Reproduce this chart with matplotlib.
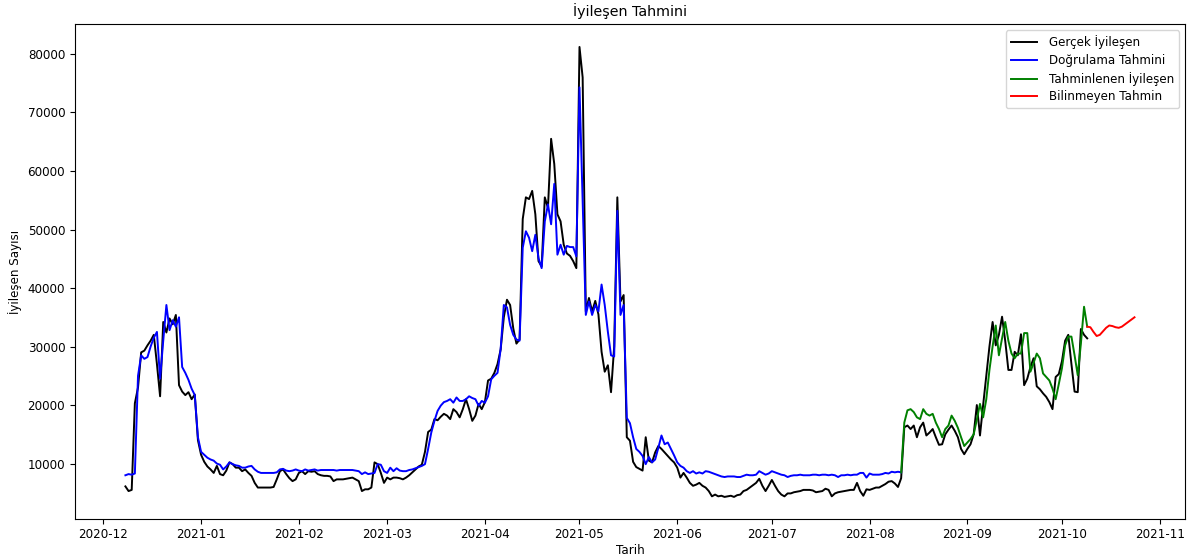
import matplotlib
matplotlib.use("Agg")
import matplotlib.pyplot as plt
import matplotlib.dates as mdates
import pandas as pd

plt.rcParams["font.family"] = ["DejaVu Sans"]
plt.rcParams["font.size"] = 8.6

# daily recovered counts, starting 2020-12-08
actual = [
    6100, 5300, 5500, 20300, 23000, 29000, 29300, 30200, 31000, 32000,
    27000, 21500, 34200, 32400, 34800, 33800, 35400, 23400, 22300, 21700,
    22200, 21000, 21800, 14000, 11500, 10300, 9500, 9000, 8400, 9600,
    8200, 8000, 8800, 10200, 9900, 9300, 9300, 8700, 9000, 8400,
    7900, 6700, 5900, 5900, 5900, 5900, 5900, 6000, 7300, 8700, 9000,
    8200, 7500, 7000, 7300, 8400, 8700, 8200, 8700, 8600, 8700,
    8200, 8000, 7900, 7900, 7800, 7000, 7300, 7300, 7300, 7400,
    7500, 7600, 7300, 7000, 5300, 5600, 5600, 5900, 10200, 9900,
    8400, 6700, 7600, 7300, 7600, 7600, 7500, 7300, 7600, 8000, 8500,
    9000, 9500, 9800, 12000, 15400, 15800, 17600, 17400, 18000, 18500,
    18200, 17600, 19300, 18800, 17900, 19300, 21000, 19300, 17300, 18200,
    20200, 19300, 20500, 24200, 24500, 25500, 27000, 29500, 35000, 38000,
    37100, 33100, 30500, 31200, 51800, 55500, 55200, 56600, 52600, 44600,
    43700, 55500, 53700, 65500, 61200, 52600, 51400, 47400, 45900, 45500,
    44600, 43400, 81200, 76000, 36000, 38300, 36000, 37800, 35500, 29100,
    25700, 26800, 22200, 30000, 55500, 37700, 38800, 14500, 13900, 10300,
    9400, 9100, 8800, 14500, 10500, 10200, 11900, 13000, 12500, 11900,
    11300, 10700, 10200, 9300, 7600, 8400, 7600, 6700, 6200, 6400,
    6700, 6200, 5900, 5300, 4400, 4700, 4400, 4500, 4300, 4400, 4500,
    4300, 4600, 4700, 5300, 5500, 5900, 6300, 6700, 7400, 6200,
    5300, 6200, 7200, 6200, 5300, 4700, 4400, 4900, 4900, 5100,
    5200, 5300, 5500, 5500, 5500, 5400, 5100, 5200, 5300, 5700, 5500,
    4400, 4900, 5100, 5200, 5300, 5400, 5500, 5500, 6700, 5300,
    4500, 5600, 5500, 5700, 5900, 5900, 6200, 6500, 6900, 7000,
    6600, 6000, 7500, 16200, 16500, 15900, 16500, 14500, 16200, 17000,
    14800, 15300, 15900, 14500, 13200, 13300, 15000, 15800, 16500, 15600,
    14500, 12500, 11600, 12500, 13300, 15000, 20000, 14800, 20000, 25000,
    30000, 34200, 30200, 32000, 35100, 31000, 26000, 26000, 29100, 28500,
    32100, 23400, 24500, 26500, 28000, 23200, 22700, 22000, 21400, 20500,
    19300, 24800, 25300, 27500, 31000, 32000, 27000, 22300, 22200, 33000,
    32000, 31400,
]

# model output on the validation period
validation = [
    8000, 8200, 8100, 8300, 25000, 28500, 27900, 28200, 30000, 31500,
    32500, 24500, 31000, 37100, 32800, 34500, 33400, 35000, 26500, 25500,
    24300, 22800, 21700, 14500, 12000, 11500, 11000, 10700, 10500, 10000,
    9800, 9000, 9500, 10200, 9900, 9700, 9600, 9300, 9300, 9500,
    9600, 9000, 8600, 8400, 8400, 8400, 8400, 8400, 8500, 9000, 9100,
    8800, 8700, 8800, 9000, 8800, 8700, 9000, 8800, 8900, 9000,
    8800, 8900, 8900, 8900, 8900, 8900, 8800, 8900, 8900, 8900,
    8900, 8900, 8800, 8700, 8200, 8500, 8200, 8300, 8400, 9900,
    9800, 8700, 8400, 9300, 8700, 9200, 8800, 8700, 8700, 8900, 9000,
    9200, 9400, 9600, 9900, 12500, 15300, 17300, 19000, 19900, 20500,
    20700, 21000, 20400, 21300, 20700, 20700, 21000, 21500, 21200, 21000,
    19900, 20700, 20400, 21500, 24400, 25000, 25500, 29600, 37100, 36700,
    33700, 32000, 31200, 31000, 46900, 49700, 48600, 46300, 49100, 45100,
    43400, 51400, 54300, 50900, 57800, 45700, 47400, 45700, 47200, 47000,
    47000, 45400, 74300, 55000, 35400, 37700, 35400, 37100, 36000, 40600,
    37100, 32500, 28500, 28300, 53200, 35400, 37100, 17800, 16900, 14500,
    12500, 12000, 11300, 9900, 11100, 10200, 10700, 12700, 14800, 13300,
    13600, 12500, 11400, 10200, 9600, 9300, 8700, 8400, 8700, 8300,
    8500, 8300, 8700, 8600, 8400, 8200, 8000, 7800, 7700, 7800, 7800,
    7800, 7700, 7700, 7900, 8100, 8000, 8000, 8100, 8700, 8400,
    8100, 8300, 8700, 8500, 8300, 8100, 8000, 7700, 7900, 8000,
    8000, 8100, 8000, 8000, 8000, 8100, 8100, 8000, 8100, 8100, 8000,
    8100, 8000, 7700, 8000, 8000, 8100, 8000, 8100, 8100, 8400,
    8400, 7600, 8300, 8100, 8100, 8100, 8200, 8400, 8300, 8600,
    8500, 8600, 8500,
]

# forecast on the last known weeks (starts where validation ends)
forecast = [
    8500, 17000, 19100, 19300, 18800, 17900, 17600, 19300, 18500, 18200,
    18500, 17000, 15900, 14500, 15900, 16500, 18200, 17300, 16100, 14500,
    13000, 13600, 14200, 15000, 17500, 20200, 17900, 21000, 26000, 30000,
    33600, 28500, 31400, 34200, 31000, 28800, 28000, 28800, 28800, 32300,
    32300, 25700, 27200, 28800, 28000, 25400, 24800, 24200, 22800, 21000,
    23600, 26300, 30200, 31700, 31700, 28500, 25100, 30500, 36800, 33400,
]

# forecast past the last known day
future = [
    33400, 33300, 32500, 31800, 32000, 32600, 33200, 33600, 33500, 33300,
    33200, 33400, 33800, 34200, 34600, 35000,
]

start = pd.Timestamp("2020-12-08")
days = pd.date_range(start, periods=len(actual), freq="D")
val_days = days[:len(validation)]
fc_days = pd.date_range(days[len(validation) - 1], periods=len(forecast), freq="D")
fut_days = pd.date_range(days[-1], periods=len(future), freq="D")

fig = plt.figure(figsize=(12.03, 5.56), dpi=100)
ax = fig.add_axes([0.0623, 0.0658, 0.9227, 0.8902])

lw = 1.4
ax.plot(days, actual, color="black", lw=lw, label="Gerçek İyileşen")
ax.plot(val_days, validation, color="blue", lw=lw, label="Doğrulama Tahmini")
ax.plot(fc_days, forecast, color="green", lw=lw, label="Tahminlenen İyileşen")
ax.plot(fut_days, future, color="red", lw=lw, label="Bilinmeyen Tahmin")

ax.xaxis.set_major_locator(mdates.MonthLocator())
ax.xaxis.set_major_formatter(mdates.DateFormatter("%Y-%m"))
ax.tick_params(axis="x", pad=2.5)

ax.set_title("İyileşen Tahmini", fontsize=10.3)
ax.set_xlabel("Tarih", labelpad=2)
ax.set_ylabel("İyileşen Sayısı")
ax.legend(loc="upper right", handlelength=2.2, handletextpad=1.0, labelspacing=0.4)

fig.savefig("out.png", dpi=100)
